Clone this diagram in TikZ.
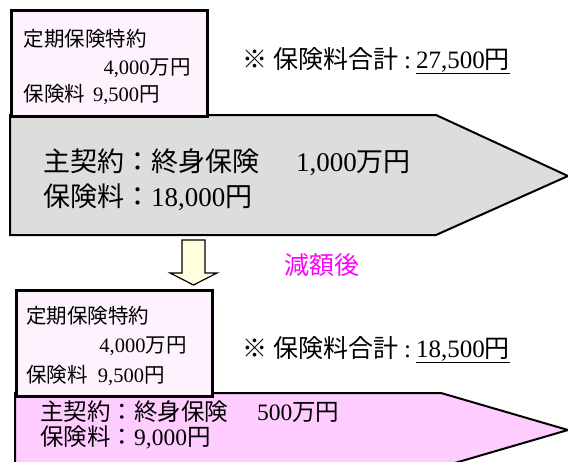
\documentclass[tikz,border=0pt]{standalone}
\usepackage{fontspec}
\setmainfont{Noto Sans CJK JP}
\newfontfamily\tm{Liberation Serif}
\usepackage{xcolor}
\usepackage{tikz}

\definecolor{riderpink}{RGB}{253,242,253}
\definecolor{maingray}{RGB}{221,221,221}
\definecolor{mainpink}{RGB}{255,204,255}
\definecolor{downyellow}{RGB}{255,255,221}
\definecolor{afterpink}{RGB}{255,0,255}

\begin{document}
\begin{tikzpicture}[x=1pt, y=-1pt,
  rider/.style={draw, line width=3pt, fill=riderpink, anchor=north west, minimum width=196pt, minimum height=106pt, inner ysep=0pt, align=left},
  txt/.style={anchor=base west, inner sep=0pt},
  plan/.style={draw, line width=2pt}]

\clip (0,0) rectangle (568,461);

% before
\path[plan, fill=maingray] (10,115) -- (436,115) -- (568,176) -- (436,235) -- (10,235) -- cycle;
\node[rider, text width=172pt, inner xsep=12pt, font=\fontsize{20.5}{27.5}\selectfont] (rider1) at (10,9)
  {\rule{0pt}{25pt}定期保険特約\\\hspace*{80pt}{\tm 4,000}万円\\保険料\hspace{8pt}{\tm 9,500}円};
\node[txt, font=\fontsize{25}{25}\selectfont] (sum1) at (242,68)
  {※\hspace{6pt}保険料合計\hspace{6pt}{\tm :}\hspace{5pt}\underline{{\tm 27,500}円}};
\node[txt, font=\fontsize{27}{27}\selectfont] (main1) at (43,171) {主契約：終身保険\hspace{37pt}{\tm 1,000}万円};
\node[txt, font=\fontsize{27}{27}\selectfont] (fee1) at (43,206) {保険料：{\tm 18,000}円};

% arrow
\path[draw, line width=1.2pt, fill=downyellow] (182,240) -- (205,240) -- (205,273) -- (217,273)
  -- (193.5,285) -- (170,273) -- (182,273) -- cycle;
\node[txt, text=afterpink, font=\fontsize{25}{25}\selectfont] (after) at (284,274) {減額後};

% after
\path[plan, fill=mainpink] (15,393) -- (441,393) -- (568,430) -- (441,467) -- (15,467) -- cycle;
\node[rider, text width=176pt, inner xsep=10pt, font=\fontsize{20.5}{29.5}\selectfont] (rider2) at (15,289)
  {\rule{0pt}{22pt}定期保険特約\\\hspace*{73pt}{\tm 4,000}万円\\保険料\hspace{10pt}{\tm 9,500}円};
\node[txt, font=\fontsize{25}{25}\selectfont] (sum2) at (242,357)
  {※\hspace{6pt}保険料合計\hspace{6pt}{\tm :}\hspace{5pt}\underline{{\tm 18,500}円}};
\node[txt, font=\fontsize{23.5}{23.5}\selectfont] (main2) at (40,420) {主契約：終身保険\hspace{29pt}{\tm 500}万円};
\node[txt, font=\fontsize{23.5}{23.5}\selectfont] (fee2) at (40,445) {保険料：{\tm 9,000}円};

\end{tikzpicture}
\end{document}
